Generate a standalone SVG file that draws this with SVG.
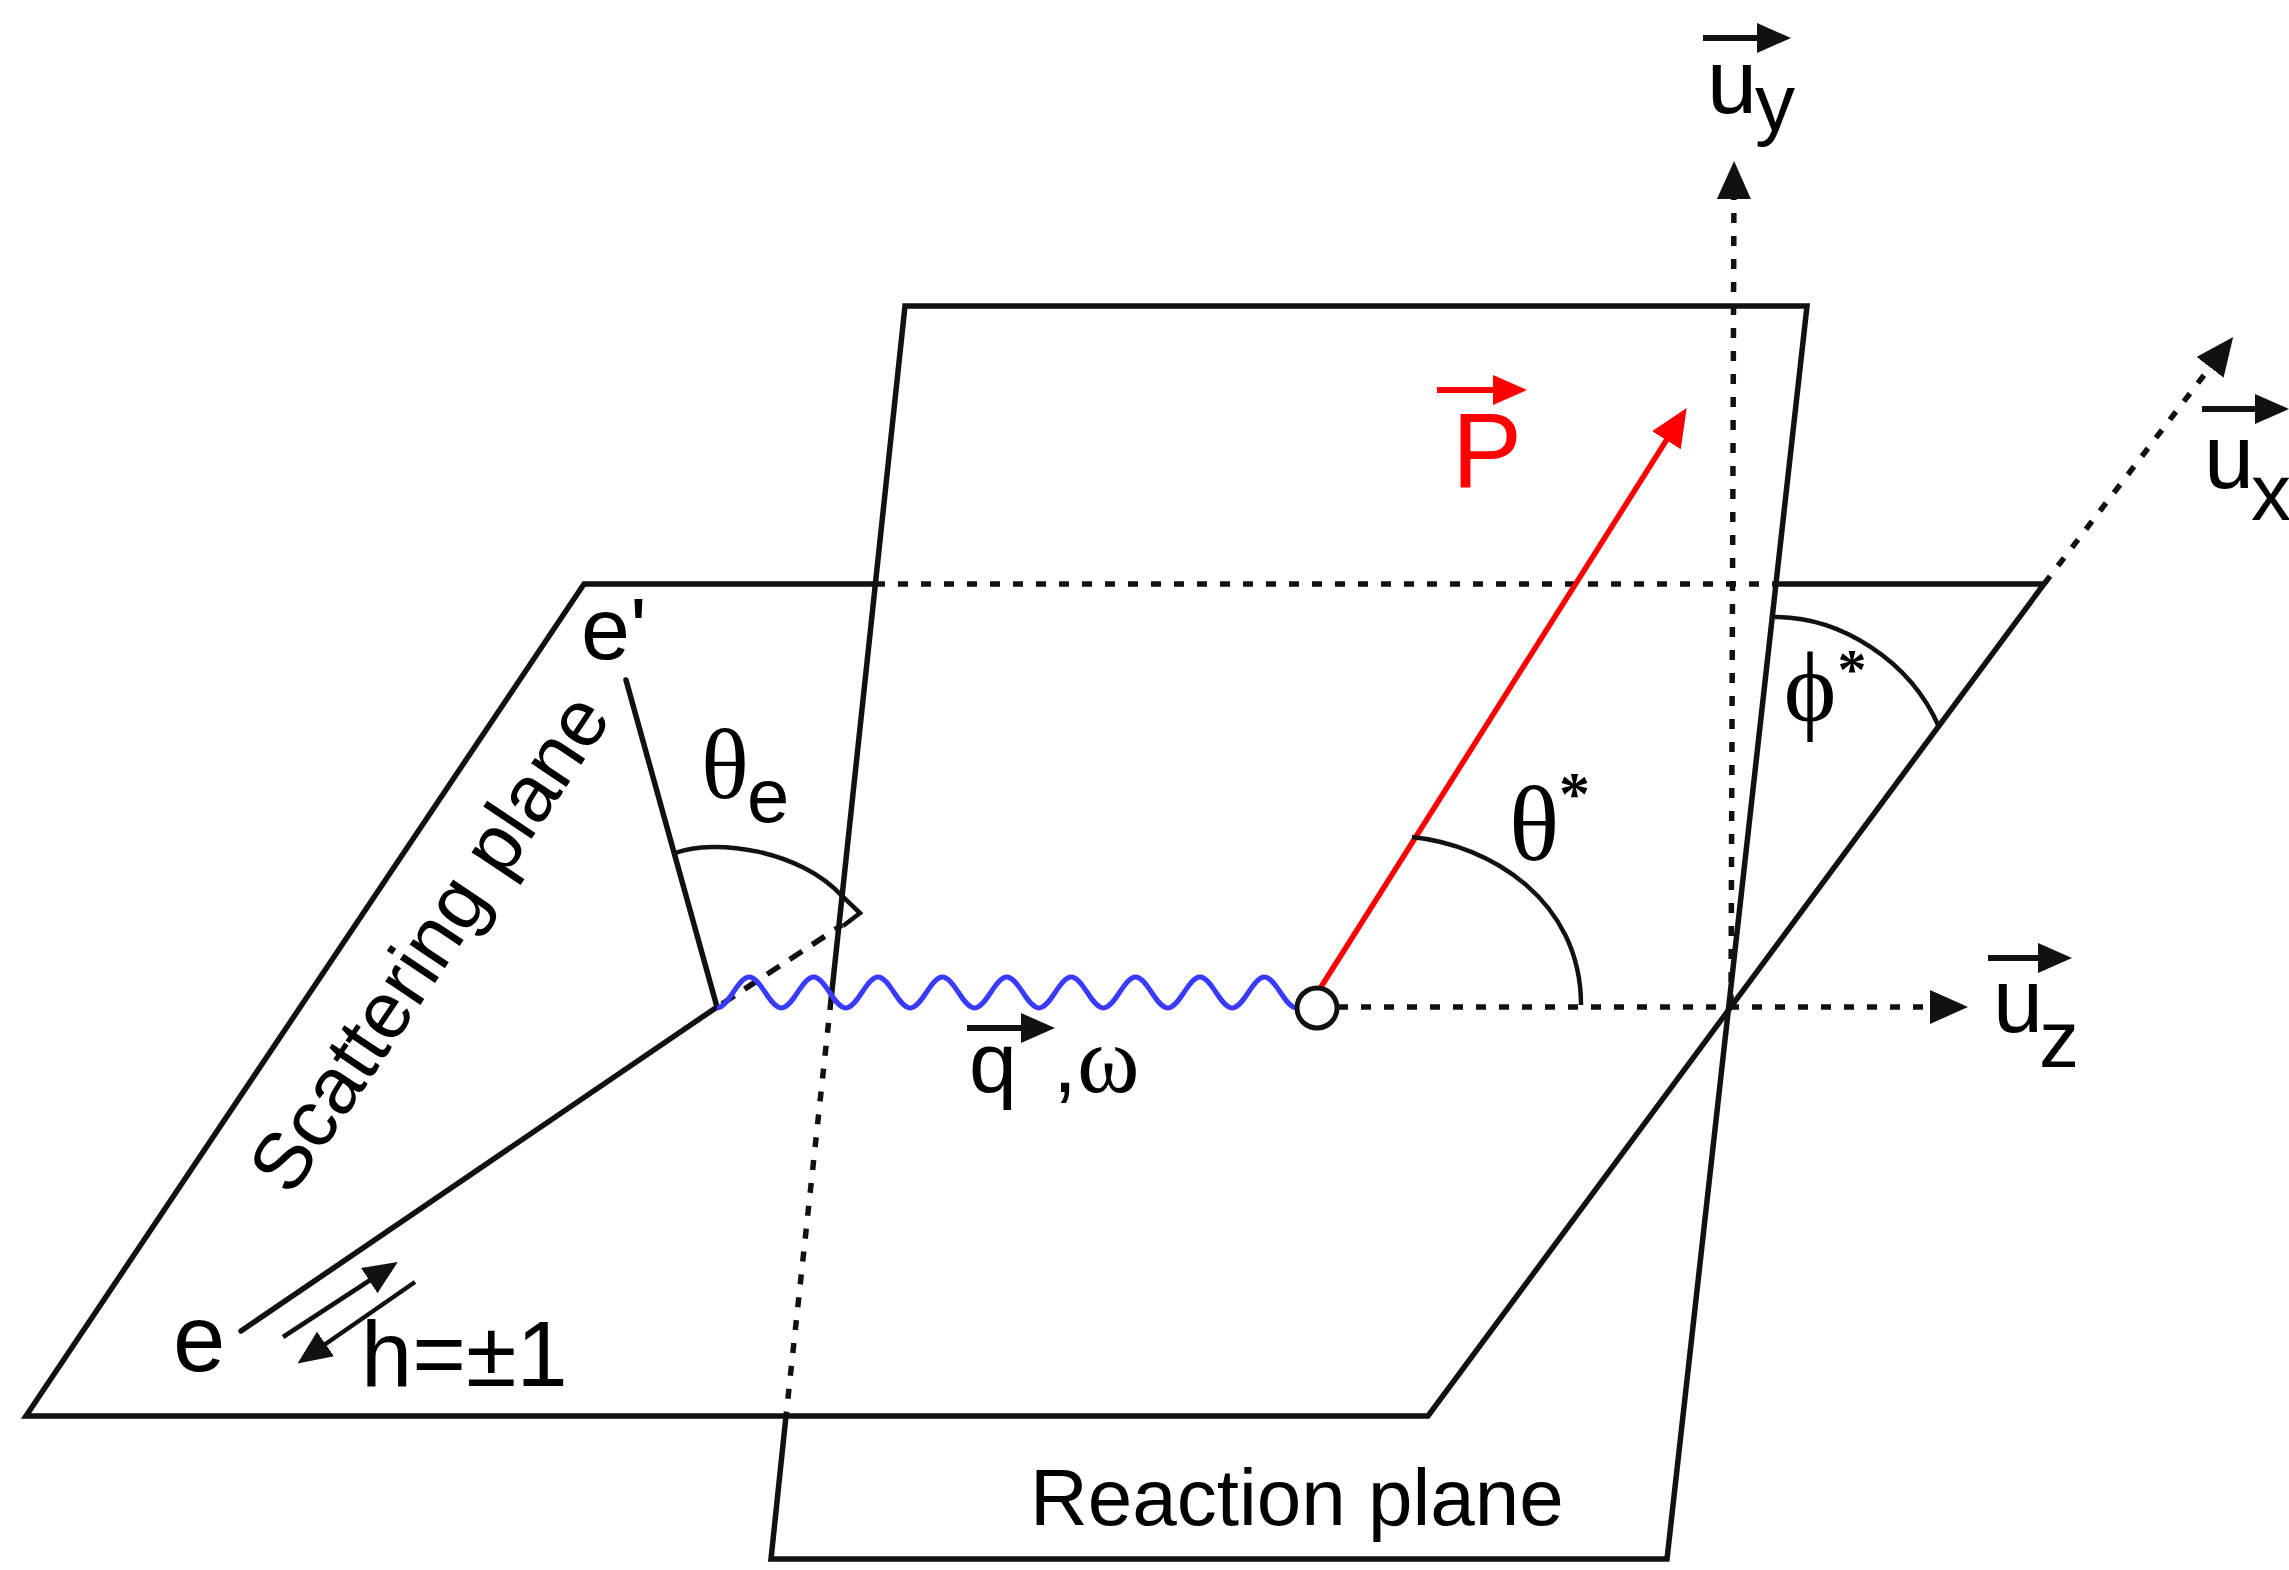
<svg xmlns="http://www.w3.org/2000/svg" width="2289" height="1570" viewBox="0 0 2289 1570">
<defs>
<style>
.edge{fill:none;stroke:#111;stroke-width:5.5;stroke-linecap:round}
.dot{fill:none;stroke:#111;stroke-width:5.5;stroke-dasharray:10 13}
.dash{fill:none;stroke:#111;stroke-width:5.5;stroke-dasharray:15 12}
.thin{fill:none;stroke:#111;stroke-width:4.5}
.vec{fill:none;stroke:#111;stroke-width:6}
.sans{font-family:"Liberation Sans",Arial,sans-serif;fill:#000}
.gr{font-family:"Liberation Serif","DejaVu Serif",serif;fill:#000}
</style>
<marker id="ah" viewBox="0 0 38 34" refX="18" refY="17" markerWidth="38" markerHeight="34" markerUnits="userSpaceOnUse" orient="auto"><path d="M0,0 L38,17 L0,34 z" fill="#111"/></marker>
<marker id="ahr" viewBox="0 0 38 34" refX="18" refY="17" markerWidth="38" markerHeight="34" markerUnits="userSpaceOnUse" orient="auto"><path d="M0,0 L38,17 L0,34 z" fill="#ff0000"/></marker>
<marker id="av" viewBox="0 0 34 30" refX="14" refY="15" markerWidth="34" markerHeight="30" markerUnits="userSpaceOnUse" orient="auto"><path d="M0,0 L34,15 L0,30 z" fill="#111"/></marker>
<marker id="avr" viewBox="0 0 34 30" refX="14" refY="15" markerWidth="34" markerHeight="30" markerUnits="userSpaceOnUse" orient="auto"><path d="M0,0 L34,15 L0,30 z" fill="#ff0000"/></marker>
</defs>
<rect width="2289" height="1570" fill="#fff"/>

<g id="scattering-plane">
<path class="edge" d="M875,584 L584,584 L26,1416 L1428,1416 L2044,584 L1776,584"/>
<path class="dot" d="M875,584 L1776,584"/>
<text class="sans" font-size="80" transform="translate(291,1198) rotate(-56.2)">Scattering plane</text>
</g>

<g id="reaction-plane">
<path class="edge" d="M831,1000 L905,306 L1807,306 L1667,1559 L771,1559 L786,1416"/>
<path class="dot" d="M831,1000 L786,1416"/>
<text class="sans" font-size="80" x="1030" y="1525">Reaction plane</text>
</g>

<g id="connectors">
<path class="dot" d="M1731,1005 L1734,181" marker-end="url(#ah)"/>
<path class="dot" d="M1338,1007 L1948,1007" marker-end="url(#ah)"/>
<path class="dot" d="M2044,584 L2221,353" marker-end="url(#ah)"/>
<path class="edge" d="M241,1331 L717,1007 L626,680"/>
<path class="dash" d="M722,1004 L842,925"/>
<path class="thin" d="M283,1337 L381,1273" marker-end="url(#av)"/>
<path class="thin" d="M415,1282 L314,1352" marker-end="url(#av)"/>
<path fill="none" stroke="#3a3aff" stroke-width="5" d="M717,1008 c11.7,0 20.5,-31 32.2,-31 s20.5,31 32.2,31 s20.5,-31 32.2,-31 s20.5,31 32.2,31 s20.5,-31 32.2,-31 s20.5,31 32.2,31 s20.5,-31 32.2,-31 s20.5,31 32.2,31 s20.5,-31 32.2,-31 s20.5,31 32.2,31 s20.5,-31 32.2,-31 s20.5,31 32.2,31 s20.5,-31 32.2,-31 s20.5,31 32.2,31 s20.5,-31 32.2,-31 s20.5,31 32.2,31 s20.5,-31 32.2,-31 s20.5,31 32.2,31"/>
<path fill="none" stroke="#ff0000" stroke-width="5.5" d="M1321,987 L1676,425" marker-end="url(#ahr)"/>
<path class="thin" d="M675,853 C715,838 800,850 842,896 L860,913 L843,926"/>
<path class="thin" d="M1412,837 C1490,845 1581,900 1581,1005"/>
<path class="thin" d="M1775,617 C1840,617 1910,660 1939,727"/>
</g>

<g id="vertex">
<circle cx="1317" cy="1008" r="20" fill="#fff" stroke="#111" stroke-width="5"/>
</g>

<g id="labels">
<text class="sans" font-size="88" x="581" y="659">e'</text>
<text class="sans" font-size="94" x="173" y="1371">e</text>
<text class="sans" font-size="92" x="361" y="1386">h=±1</text>
<text x="701" y="798"><tspan class="gr" font-size="100">θ</tspan><tspan class="sans" font-size="76" x="747" y="822">e</tspan></text>
<path class="vec" d="M967,1028 L1035,1028" marker-end="url(#av)"/>
<text y="1092"><tspan class="sans" font-size="86" x="969">q</tspan><tspan class="sans" font-size="86" x="1053">,</tspan><tspan class="gr" font-size="95" x="1077">ω</tspan></text>
<path fill="none" stroke="#ff0000" stroke-width="6" d="M1437,390 L1507,390" marker-end="url(#avr)"/>
<text class="sans" font-size="105" x="1452" y="487" style="fill:#ff0000">P</text>
<text class="gr" font-size="105" x="1509" y="860">θ</text>
<text class="gr" font-size="62" font-weight="bold" x="1559" y="814">*</text>
<text class="gr" font-size="100" x="1810" y="721" text-anchor="middle">ϕ</text>
<text class="gr" font-size="58" font-weight="bold" x="1852" y="689" text-anchor="middle">*</text>
<path class="vec" d="M1703,38 L1771,38" marker-end="url(#av)"/>
<text class="sans" font-size="90" x="1707" y="113">u</text>
<text class="sans" font-size="80" x="1755" y="130">y</text>
<path class="vec" d="M2202,409 L2269,409" marker-end="url(#av)"/>
<text class="sans" font-size="90" x="2204" y="488">u</text>
<text class="sans" font-size="80" x="2251" y="520">x</text>
<path class="vec" d="M1988,958 L2052,958" marker-end="url(#av)"/>
<text class="sans" font-size="90" x="1993" y="1032">u</text>
<text class="sans" font-size="80" x="2039" y="1067">z</text>
</g>
</svg>
